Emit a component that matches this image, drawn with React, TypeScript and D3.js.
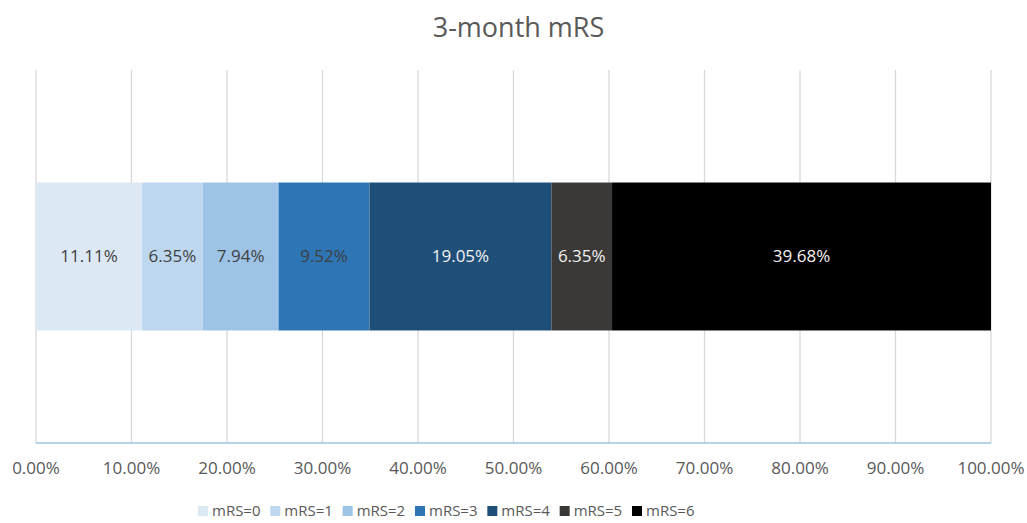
import React from 'react';
import * as d3 from 'd3';

// chart values
const categories = ['mRS=0', 'mRS=1', 'mRS=2', 'mRS=3', 'mRS=4', 'mRS=5', 'mRS=6'];
const shares = [11.11, 6.35, 7.94, 9.52, 19.05, 6.35, 39.68];
const colors = ['#dde8f5', '#bdd7ee', '#9dc3e6', '#2e75b6', '#1f4e79', '#3b3838', '#000000'];
const labelColors = ['#404040', '#404040', '#404040', '#404040', '#f2f2f2', '#f2f2f2', '#f2f2f2'];
const ticks = [0, 10, 20, 30, 40, 50, 60, 70, 80, 90, 100];

const W = 1027;
const H = 523;
const FONT = '"Open Sans", "Noto Sans", sans-serif';

export default function App() {
    const x = d3.scaleLinear().domain([0, 100]).range([36, 991]);
    const y = d3.scaleBand().domain(['3-month']).range([70, 443]).padding(0.432);

    // stack the segments
    const starts = shares.map((_, i) => d3.sum(shares.slice(0, i)));

    const legendX = d3.scalePoint().domain(categories).range([198, 632]);

    return (
        <svg width={W} height={H} style={{ position: 'absolute', left: 0, top: 0 }} fontFamily={FONT}>
            <rect width={W} height={H} fill="#fff" />
            <text x={W / 2 + 5} y={37} textAnchor="middle" fontSize={27} fill="#595959">3-month mRS</text>

            {ticks.map(t => (
                <line key={t} x1={x(t)} x2={x(t)} y1={70} y2={443} stroke="#d9d9d9" strokeWidth={1.3} />
            ))}

            {shares.map((v, i) => (
                <rect key={i} x={x(starts[i])} y={y('3-month')} width={x(starts[i] + v) - x(starts[i])}
                    height={y.bandwidth()} fill={colors[i]} />
            ))}
            {shares.map((v, i) => (
                <text key={i} x={(x(starts[i]) + x(starts[i] + v)) / 2} y={y('3-month')! + y.bandwidth() / 2}
                    dy="0.35em" textAnchor="middle" fontSize={17} fill={labelColors[i]}>
                    {v.toFixed(2)}%
                </text>
            ))}

            <line x1={x(0)} x2={x(100)} y1={443} y2={443} stroke="#9dc3e6" strokeWidth={1.5} />
            {ticks.map(t => (
                <text key={t} x={x(t)} y={468} dy="0.35em" textAnchor="middle" fontSize={17} fill="#595959">
                    {t.toFixed(2)}%
                </text>
            ))}

            {categories.map((c, i) => (
                <g key={c} transform={`translate(${legendX(c)},511)`}>
                    <rect x={0} y={-5} width={10} height={10} fill={colors[i]} />
                    <text x={14} y={0} dy="0.35em" fontSize={15} fill="#595959">{c}</text>
                </g>
            ))}
        </svg>
    );
}
